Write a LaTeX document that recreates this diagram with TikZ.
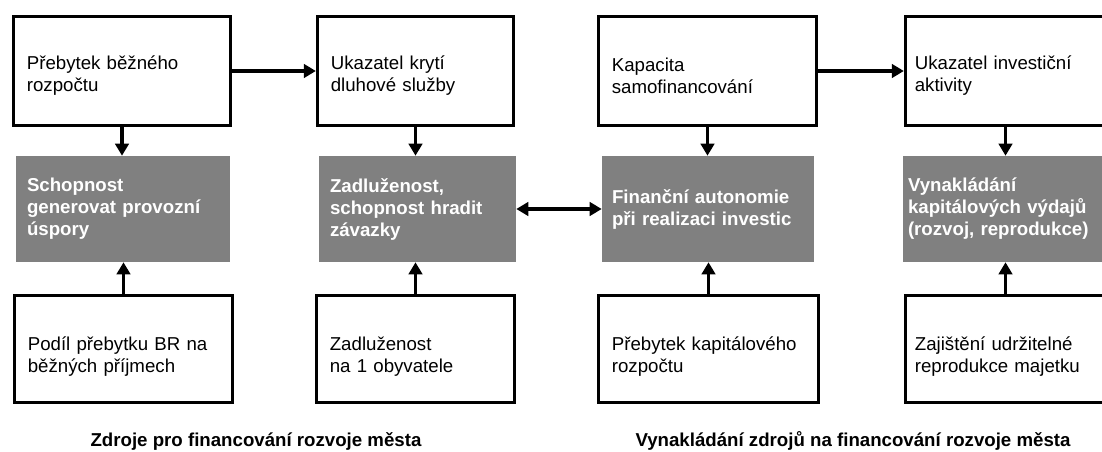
\documentclass[tikz,border=0pt]{standalone}
\usepackage{fontspec}
\setmainfont{Liberation Sans}
\usepackage{xcolor}
\usepackage{tikz}
\usetikzlibrary{arrows.meta, positioning}

\definecolor{boxgrey}{RGB}{128,128,128}

\begin{document}
\begin{tikzpicture}[x=0.75pt, y=-0.75pt, >={Triangle[length=9pt,width=10pt]}, font=\fontsize{14}{16.5}\selectfont]
    \tikzstyle{block} = [draw, rectangle, line width=2.4pt, align=left, inner xsep=10pt, inner ysep=0pt]
    \tikzstyle{topblock} = [block, minimum height=81.75pt, execute at begin node={\rule{0pt}{17pt}}]
    \tikzstyle{lowblock} = [block, minimum height=80.25pt, execute at begin node={\rule{0pt}{21pt}}]
    \tikzstyle{greyblock} = [rectangle, fill=boxgrey, text=white, font=\fontsize{14}{16.5}\selectfont\bfseries, align=left, inner xsep=8.25pt, inner ysep=0pt, minimum height=79.5pt]
    \tikzstyle{caption} = [anchor=base, font=\fontsize{14}{16.5}\selectfont\bfseries]
    \tikzstyle{link} = [line width=2.3pt]

    \useasboundingbox (0,0) rectangle (1102,452);

    % top row
    \node [topblock, text width=142.75pt] (surplus) at (122,71) {P\v{r}ebytek b\v{e}\v{z}n\'eho\\rozpo\v{c}tu};
    \node [topblock, text width=127pt] (coverage) at (415.5,71) {Ukazatel kryt\'i\\dluhov\'e slu\v{z}by};
    \node [topblock, text width=143.5pt] (selffin) at (707.5,71) {Kapacita\\samofinancov\'an\'i};
    \node [topblock, text width=136pt, inner xsep=7pt] (invest) at (1005.5,71) {Ukazatel investi\v{c}n\'i\\aktivity};

    % grey row
    \node [greyblock, text width=144pt] (savings) at (123,209) {Schopnost\\generovat provozn\'i\\\'uspory};
    \node [greyblock, text width=131.25pt] (debt) at (417.5,209) {Zadlu\v{z}enost,\\schopnost hradit\\z\'avazky};
    \node [greyblock, text width=144pt, inner xsep=7.5pt] (autonomy) at (708,209) {Finan\v{c}n\'i autonomie\\p\v{r}i realizaci investic};
    \node [greyblock, text width=143.25pt, inner xsep=3.75pt] (capex) at (1003.5,209) {Vynakl\'ad\'an\'i\\kapit\'alov\'ych v\'ydaj\r{u}\\(rozvoj, reprodukce)};

    % bottom row
    \node [lowblock, text width=143.5pt] (share) at (123.5,349) {Pod\'il p\v{r}ebytku BR na\\b\v{e}\v{z}n\'ych p\v{r}\'ijmech};
    \node [lowblock, text width=128.5pt] (percap) at (415.5,349) {Zadlu\v{z}enost\\na 1 obyvatele};
    \node [lowblock, text width=145pt] (capsurplus) at (708.5,349) {P\v{r}ebytek kapit\'alov\'eho\\rozpo\v{c}tu};
    \node [lowblock, text width=136pt, inner xsep=7pt] (renewal) at (1005.5,349) {Zaji\v{s}t\v{e}n\'i udr\v{z}iteln\'e\\reprodukce majetku};

    \node [caption] (sources) at (256,446) {Zdroje pro financov\'an\'i rozvoje m\v{e}sta};
    \node [caption] (spending) at (853,446) {Vynakl\'ad\'an\'i zdroj\r{u} na financov\'an\'i rozvoje m\v{e}sta};

    \draw [->, link] (surplus.east) -- (coverage.west);
    \draw [->, link] (selffin.east) -- (invest.west);
    \draw [<->, link] (debt.east) -- (autonomy.west);
    \draw [->, link] (surplus.south) -- (surplus.south |- savings.north);
    \draw [->, link] (coverage.south) -- (coverage.south |- debt.north);
    \draw [->, link] (selffin.south) -- (selffin.south |- autonomy.north);
    \draw [->, link] (invest.south) -- (invest.south |- capex.north);
    \draw [->, link] (share.north) -- (share.north |- savings.south);
    \draw [->, link] (percap.north) -- (percap.north |- debt.south);
    \draw [->, link] (capsurplus.north) -- (capsurplus.north |- autonomy.south);
    \draw [->, link] (renewal.north) -- (renewal.north |- capex.south);
\end{tikzpicture}
\end{document}
